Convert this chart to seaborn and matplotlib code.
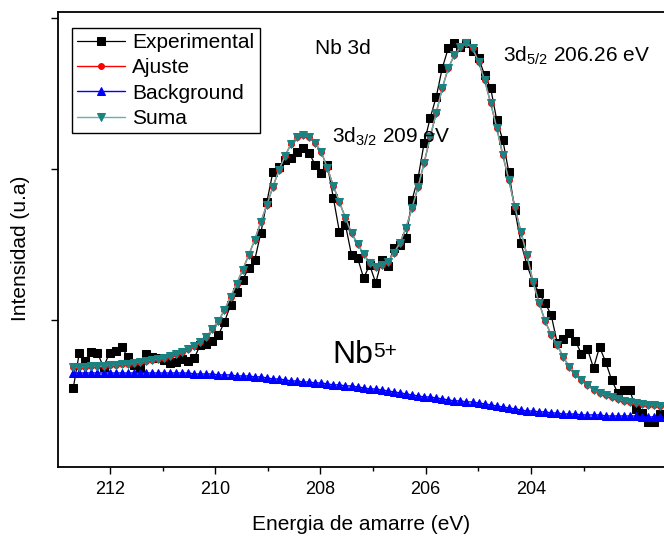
import numpy as np
import pandas as pd
import matplotlib
matplotlib.use("Agg")
import matplotlib.pyplot as plt
import seaborn as sns
from matplotlib.ticker import FixedLocator, NullFormatter

# Binding-energy grid of the Nb 3d scan (eV), 98 channels
e_start = 212.70
e_step = 0.115
energy = np.round(e_start - e_step * np.arange(98), 3)

# Measured spectrum (counts, arbitrary units)
experimental = [
    1550, 1781, 1728, 1788, 1781, 1689, 1781, 1795, 1821, 1755,
    1702, 1682, 1775, 1755, 1748, 1735, 1715, 1722, 1742, 1728,
    1748, 1834, 1841, 1861, 1901, 1987, 2099, 2185, 2265, 2344,
    2397, 2576, 2781, 2980, 3013, 3060, 3073, 3113, 3139, 3106,
    3026, 2974, 3026, 2808, 2583, 2629, 2430, 2411, 2278, 2364,
    2245, 2397, 2358, 2477, 2497, 2543, 2795, 2940, 3172, 3338,
    3477, 3669, 3801, 3834, 3808, 3834, 3781, 3735, 3623, 3536,
    3325, 3192, 2980, 2728, 2510, 2364, 2252, 2179, 2113, 2033,
    1848, 1874, 1914, 1861, 1775, 1808, 1682, 1821, 1722, 1603,
    1517, 1536, 1536, 1411, 1384, 1325, 1325, 1377,
]

# Fitted envelope
ajuste = [
    1689, 1689, 1689, 1695, 1695, 1695, 1702, 1702, 1709, 1709,
    1715, 1722, 1728, 1735, 1742, 1748, 1762, 1775, 1788, 1808,
    1828, 1854, 1887, 1940, 1993, 2066, 2152, 2238, 2331, 2430,
    2530, 2649, 2762, 2881, 2993, 3086, 3166, 3212, 3225, 3212,
    3172, 3113, 3007, 2887, 2781, 2675, 2576, 2503, 2437, 2377,
    2351, 2364, 2384, 2444, 2510, 2609, 2742, 2881, 3040, 3212,
    3371, 3536, 3669, 3755, 3808, 3834, 3801, 3709, 3589, 3437,
    3272, 3093, 2927, 2748, 2583, 2430, 2252, 2113, 1993, 1901,
    1834, 1755, 1689, 1642, 1603, 1570, 1536, 1517, 1503, 1490,
    1477, 1464, 1457, 1450, 1444, 1437, 1437, 1430,
]

# Shirley background
background = [
    1649, 1649, 1649, 1649, 1649, 1649, 1649, 1649, 1649, 1649,
    1649, 1649, 1649, 1649, 1649, 1649, 1649, 1649, 1649, 1649,
    1642, 1642, 1642, 1642, 1636, 1636, 1636, 1629, 1629, 1629,
    1623, 1623, 1616, 1609, 1609, 1603, 1596, 1596, 1589, 1589,
    1583, 1583, 1576, 1570, 1570, 1563, 1563, 1556, 1550, 1543,
    1543, 1536, 1530, 1523, 1517, 1510, 1503, 1497, 1490, 1490,
    1483, 1477, 1470, 1464, 1464, 1457, 1457, 1450, 1444, 1437,
    1430, 1424, 1417, 1411, 1404, 1397, 1397, 1391, 1391, 1384,
    1384, 1377, 1377, 1377, 1371, 1371, 1371, 1371, 1364, 1364,
    1364, 1364, 1364, 1364, 1358, 1358, 1358, 1358,
]

# Sum of components plus background
suma = list(ajuste)

series_names = ["Experimental", "Ajuste", "Background", "Suma"]
major_ticks = [212, 210, 208, 206, 204]
minor_ticks = [213, 211, 209, 207, 205, 203]

df = pd.DataFrame({
    "energy": energy,
    "Experimental": experimental,
    "Ajuste": ajuste,
    "Background": background,
    "Suma": suma,
})

sns.set_style("ticks")
plt.rcParams["font.family"] = ["Liberation Sans", "DejaVu Sans"]
plt.rcParams["mathtext.fontset"] = "custom"
plt.rcParams["mathtext.rm"] = "Liberation Sans"
plt.rcParams["mathtext.it"] = "Liberation Sans"
plt.rcParams["mathtext.default"] = "regular"
plt.rcParams["text.color"] = "black"
plt.rcParams["axes.labelcolor"] = "black"
plt.rcParams["xtick.color"] = "black"
plt.rcParams["ytick.color"] = "black"

fig = plt.figure(figsize=(6.64, 5.36), dpi=100)
ax = fig.add_axes([58 / 664, 69 / 536, 606 / 664, 455 / 536])

styles = {
    "Experimental": dict(color="black", marker="s", markersize=5.2,
                         markerfacecolor="black", markeredgecolor="black",
                         linewidth=0.9),
    "Ajuste": dict(color="#ff0000", marker="o", markersize=4.2,
                   markerfacecolor="#ff0000", markeredgecolor="#ff0000",
                   linewidth=1.0),
    "Background": dict(color="#0000ff", marker="^", markersize=5.4,
                       markerfacecolor="#0000ff", markeredgecolor="#0000ff",
                       linewidth=1.0),
    "Suma": dict(color="#5fb3ac", marker="v", markersize=5.8,
                 markerfacecolor="#1b8282", markeredgecolor="#1b8282",
                 linewidth=1.0),
}

for name in series_names:
    sns.lineplot(data=df, x="energy", y=name, ax=ax, sort=False,
                 label=name, **styles[name])

ax.set_xlim(212.99, 201.47)
ax.set_ylim(1026, 4040)

ax.xaxis.set_major_locator(FixedLocator(major_ticks))
ax.xaxis.set_minor_locator(FixedLocator(minor_ticks))
ax.yaxis.set_major_locator(FixedLocator([2000, 3000, 4000]))
ax.yaxis.set_major_formatter(NullFormatter())

ax.tick_params(axis="x", which="major", direction="out", length=5,
               width=1.0, labelsize=13, pad=5, colors="black")
ax.tick_params(axis="x", which="minor", direction="out", length=3,
               width=1.0, colors="black")
ax.tick_params(axis="y", which="major", direction="out", length=5,
               width=1.0, colors="black")

for side in ["left", "bottom", "top"]:
    ax.spines[side].set_visible(True)
    ax.spines[side].set_linewidth(1.3)
    ax.spines[side].set_color("black")
ax.spines["right"].set_visible(False)

ax.set_xlabel("Energia de amarre (eV)", fontsize=15, labelpad=12,
              color="black")
ax.set_ylabel("Intensidad (u.a)", fontsize=15, color="black")
ax.yaxis.set_label_coords(-0.047, 0.48)

ax.text(208.10, 3801, "Nb 3d", fontsize=15, va="center", ha="left")
ax.text(204.53, 3709, r"3d$_{5/2}$ 206.26 eV", fontsize=15,
        va="baseline", ha="left")
ax.text(207.79, 3172, r"3d$_{3/2}$ 209 eV", fontsize=15,
        va="baseline", ha="left")
nb = ax.text(207.77, 1715, "Nb", fontsize=23, va="baseline", ha="left")
ax.annotate("5+", xy=(1.0, 0.93), xycoords=nb, fontsize=15,
            va="top", ha="left")

leg = ax.legend(loc="upper left", bbox_to_anchor=(0.023, 0.965),
                borderaxespad=0, fontsize=15, frameon=True, fancybox=False,
                edgecolor="black", framealpha=1, borderpad=0.25,
                labelspacing=0.3, handlelength=2.3, handletextpad=0.35)
leg.get_frame().set_linewidth(1.0)
for txt in leg.get_texts():
    txt.set_color("black")

fig.savefig("out.png", dpi=100)
